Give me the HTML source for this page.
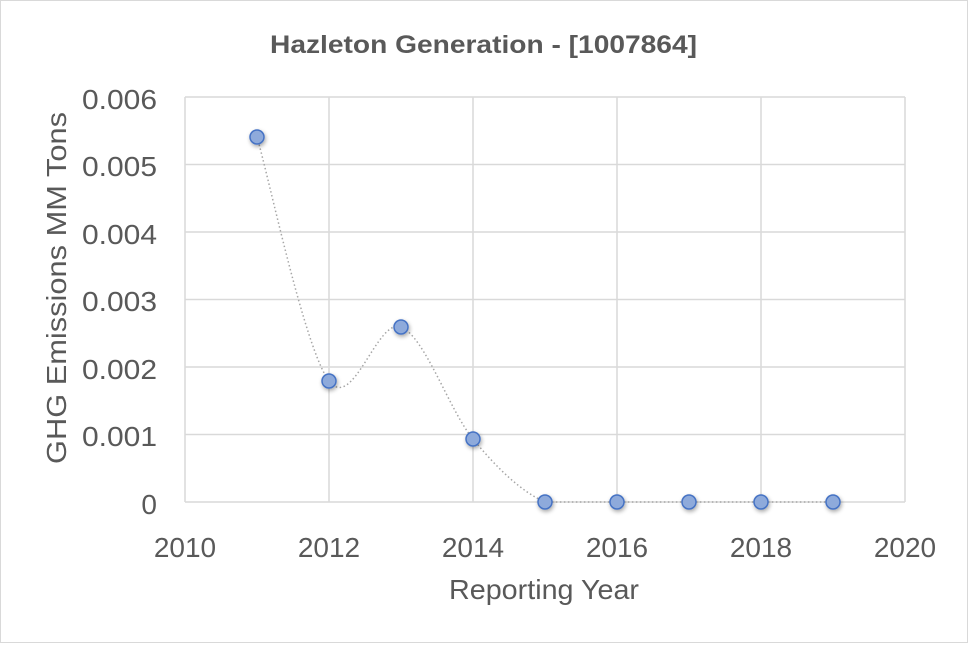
<!DOCTYPE html>
<html><head><style>
body{margin:0;background:#fff;}
svg text{font-family:"Liberation Sans",sans-serif;fill:#595959;}
</style></head><body>
<svg width="968" height="643" viewBox="0 0 968 643" xmlns="http://www.w3.org/2000/svg">
<defs><filter id="sh" x="-50%" y="-50%" width="200%" height="200%"><feGaussianBlur in="SourceAlpha" stdDeviation="2"/><feOffset dx="1" dy="2"/><feComponentTransfer><feFuncA type="linear" slope="0.35"/></feComponentTransfer><feMerge><feMergeNode/><feMergeNode in="SourceGraphic"/></feMerge></filter></defs>
<rect x="0.5" y="0.5" width="967" height="642" fill="#fff" stroke="#d9d9d9"/>
<text x="270" y="53" font-size="25" font-weight="bold" textLength="427" lengthAdjust="spacingAndGlyphs">Hazleton Generation - [1007864]</text>
<g stroke="#d9d9d9" stroke-width="1.5" fill="none">
<line x1="185" y1="97" x2="905" y2="97"/>
<line x1="185" y1="164.5" x2="905" y2="164.5"/>
<line x1="185" y1="232" x2="905" y2="232"/>
<line x1="185" y1="299.5" x2="905" y2="299.5"/>
<line x1="185" y1="367" x2="905" y2="367"/>
<line x1="185" y1="434.5" x2="905" y2="434.5"/>
<line x1="185" y1="502" x2="905" y2="502"/>
<line x1="185" y1="97" x2="185" y2="502"/>
<line x1="329" y1="97" x2="329" y2="502"/>
<line x1="473" y1="97" x2="473" y2="502"/>
<line x1="617" y1="97" x2="617" y2="502"/>
<line x1="761" y1="97" x2="761" y2="502"/>
<line x1="905" y1="97" x2="905" y2="502"/>
</g>
<g font-size="28" text-anchor="end">
<text x="157" y="109" textLength="75" lengthAdjust="spacingAndGlyphs">0.006</text>
<text x="157" y="176" textLength="75" lengthAdjust="spacingAndGlyphs">0.005</text>
<text x="157" y="244" textLength="75" lengthAdjust="spacingAndGlyphs">0.004</text>
<text x="157" y="311" textLength="75" lengthAdjust="spacingAndGlyphs">0.003</text>
<text x="157" y="379" textLength="75" lengthAdjust="spacingAndGlyphs">0.002</text>
<text x="157" y="446" textLength="75" lengthAdjust="spacingAndGlyphs">0.001</text>
<text x="157" y="514">0</text>
</g>
<g font-size="28" text-anchor="middle">
<text x="185" y="557">2010</text>
<text x="329" y="557">2012</text>
<text x="473" y="557">2014</text>
<text x="617" y="557">2016</text>
<text x="761" y="557">2018</text>
<text x="905" y="557">2020</text>
<text x="544" y="599" textLength="190" lengthAdjust="spacingAndGlyphs">Reporting Year</text>
<text transform="translate(66,288) rotate(-90)" textLength="352" lengthAdjust="spacingAndGlyphs">GHG Emissions MM Tons</text>
</g>
<path d="M257,137 C269,177.7 304.8,349.3 329,381 C353.2,412.7 377,317.3 401,327 C425,336.7 449,409.8 473,439 C497,468.2 521,491.5 545,502 L833,502" fill="none" stroke="#a6a6a6" stroke-width="1.5" stroke-dasharray="1.5,2.5"/>
<g fill="#8eaadb" stroke="#4472c4" stroke-width="1.5" filter="url(#sh)">
<circle cx="257" cy="137" r="7"/>
<circle cx="329" cy="381" r="7"/>
<circle cx="401" cy="327" r="7"/>
<circle cx="473" cy="439" r="7"/>
<circle cx="545" cy="502" r="7"/>
<circle cx="617" cy="502" r="7"/>
<circle cx="689" cy="502" r="7"/>
<circle cx="761" cy="502" r="7"/>
<circle cx="833" cy="502" r="7"/>
</g>
</svg>
</body></html>
